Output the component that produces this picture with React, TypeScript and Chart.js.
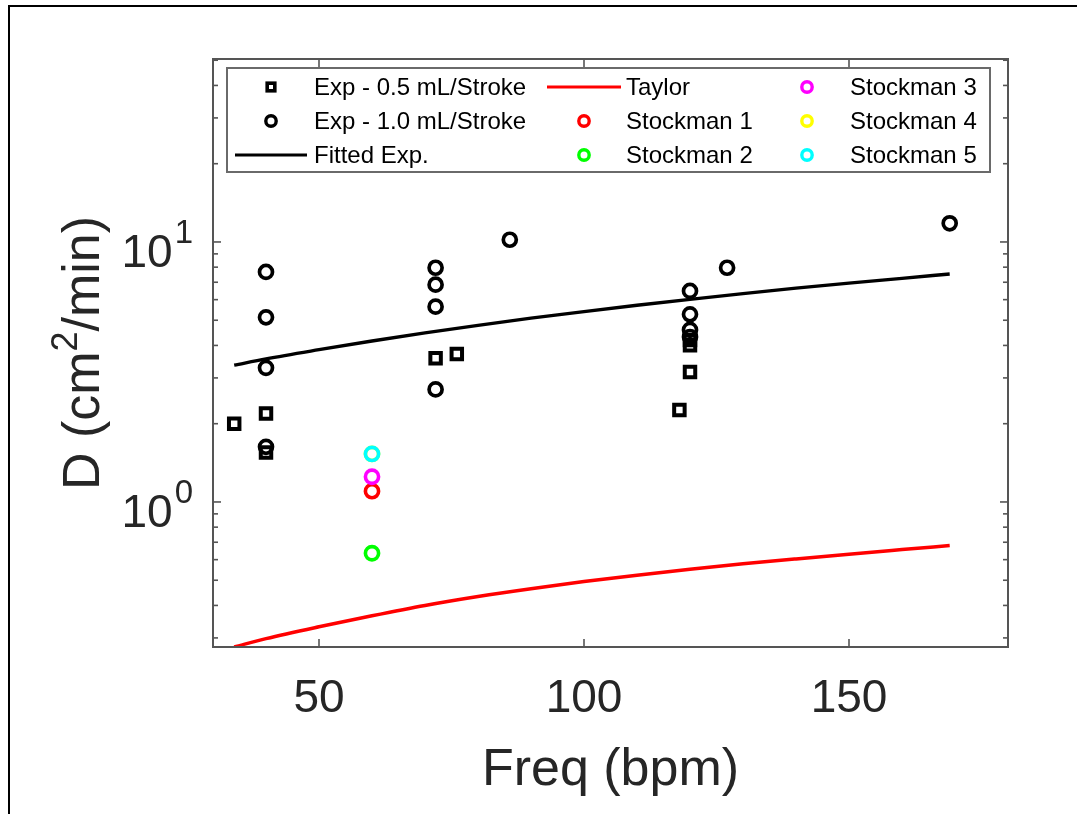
import React, { useEffect, useRef } from "react";
import { Chart, registerables } from "chart.js";

Chart.register(...registerables);

const FONT = '"Liberation Sans", Arial, Helvetica, sans-serif';
const TEXT_COLOR = "#262626";
const AXIS_COLOR = "#555555";

// Axis limits and tick values
const xLimits = [30, 180];
const yLimits = [0.2768, 50.55];
const xTicks = [50, 100, 150];
const yMajorTicks = [1, 10];
const yMajorExponents = ["0", "1"];
const yMinorTicks = [0.3, 0.4, 0.5, 0.6, 0.7, 0.8, 0.9, 2, 3, 4, 5, 6, 7, 8, 9, 20, 30, 40, 50];

// Experimental data, 0.5 mL per stroke
const halfMlFreq = [34, 40, 40, 72, 76, 118, 120, 120, 120];
const halfMlD = [2.0, 2.19, 1.55, 3.57, 3.71, 2.26, 3.16, 4.2, 4.01];

// Experimental data, 1.0 mL per stroke
const oneMlFreq = [40, 40, 40, 40, 72, 72, 72, 72, 86, 120, 120, 120, 120, 127, 169];
const oneMlD = [7.67, 5.13, 3.28, 1.63, 7.96, 6.85, 5.64, 2.71, 10.2, 6.48, 5.27, 4.59, 4.31, 7.96, 11.8];

// Fitted curve through the experiments
const fitFreq = [34, 40, 50, 60, 70, 80, 90, 100, 110, 120, 130, 140, 150, 160, 169];
const fitD = [3.36, 3.55, 3.85, 4.16, 4.47, 4.78, 5.09, 5.4, 5.71, 6.02, 6.33, 6.64, 6.95, 7.25, 7.53];

// Taylor dispersion estimate
const taylorFreq = [34, 40, 50, 60, 70, 80, 90, 100, 110, 120, 130, 140, 150, 160, 169];
const taylorD = [0.277, 0.298, 0.331, 0.365, 0.4, 0.433, 0.464, 0.494, 0.523, 0.551, 0.578, 0.604, 0.63, 0.656, 0.68];

// Stockman model results
const stockmanLabels = ["Stockman 1", "Stockman 2", "Stockman 3", "Stockman 4", "Stockman 5"];
const stockmanFreq = [60, 60, 60, 60, 60];
const stockmanD = [1.1, 0.635, 1.25, 1.53, 1.53];
const stockmanColors = ["#ff0000", "#00ff00", "#ff00ff", "#ffff00", "#00ffff"];

const toPoints = (xs: number[], ys: number[]) => xs.map((x, i) => ({ x, y: ys[i] }));

type LegendEntry = { label: string; kind: "rect" | "circle" | "line"; color: string };
const legendColumns: LegendEntry[][] = [
  [
    { label: "Exp - 0.5 mL/Stroke", kind: "rect", color: "#000000" },
    { label: "Exp - 1.0 mL/Stroke", kind: "circle", color: "#000000" },
    { label: "Fitted Exp.", kind: "line", color: "#000000" },
  ],
  [
    { label: "Taylor", kind: "line", color: "#ff0000" },
    { label: stockmanLabels[0], kind: "circle", color: stockmanColors[0] },
    { label: stockmanLabels[1], kind: "circle", color: stockmanColors[1] },
  ],
  [
    { label: stockmanLabels[2], kind: "circle", color: stockmanColors[2] },
    { label: stockmanLabels[3], kind: "circle", color: stockmanColors[3] },
    { label: stockmanLabels[4], kind: "circle", color: stockmanColors[4] },
  ],
];

function line(ctx: CanvasRenderingContext2D, x1: number, y1: number, x2: number, y2: number) {
  ctx.beginPath();
  ctx.moveTo(x1, y1);
  ctx.lineTo(x2, y2);
  ctx.stroke();
}

const axesPlugin = {
  id: "boxAxes",
  afterDatasetsDraw(chart: any) {
    const { ctx, chartArea: a, scales } = chart;
    const x = scales.x;
    const y = scales.y;
    ctx.save();
    ctx.strokeStyle = AXIS_COLOR;
    ctx.lineWidth = 1.6;
    for (const v of xTicks) {
      const px = x.getPixelForValue(v);
      line(ctx, px, a.bottom, px, a.bottom - 8);
      line(ctx, px, a.top, px, a.top + 8);
    }
    for (const v of yMajorTicks) {
      const py = y.getPixelForValue(v);
      line(ctx, a.left, py, a.left + 8, py);
      line(ctx, a.right, py, a.right - 8, py);
    }
    for (const v of yMinorTicks) {
      const py = y.getPixelForValue(v);
      line(ctx, a.left, py, a.left + 5, py);
      line(ctx, a.right, py, a.right - 5, py);
    }
    ctx.lineWidth = 2;
    ctx.strokeRect(a.left, a.top, a.right - a.left, a.bottom - a.top);

    // tick labels
    ctx.fillStyle = TEXT_COLOR;
    ctx.font = `46px ${FONT}`;
    ctx.textAlign = "center";
    ctx.textBaseline = "alphabetic";
    for (const v of xTicks) {
      ctx.fillText(String(v), x.getPixelForValue(v), a.bottom + 65);
    }
    yMajorTicks.forEach((v, i) => {
      const py = y.getPixelForValue(v);
      ctx.textAlign = "right";
      ctx.font = `33px ${FONT}`;
      const expX = a.left - 20;
      ctx.fillText(yMajorExponents[i], expX, py + 1);
      const expW = ctx.measureText(yMajorExponents[i]).width;
      ctx.font = `46px ${FONT}`;
      ctx.fillText("10", expX - expW - 2, py + 25);
    });

    // axis titles
    ctx.font = `52px ${FONT}`;
    ctx.textAlign = "center";
    ctx.fillText("Freq (bpm)", (a.left + a.right) / 2, a.bottom + 138);

    ctx.translate(99, (a.top + a.bottom) / 2);
    ctx.rotate(-Math.PI / 2);
    ctx.textAlign = "left";
    const parts = [
      { t: "D (cm", size: 52, dy: 0 },
      { t: "2", size: 36, dy: -22 },
      { t: "/min)", size: 52, dy: 0 },
    ];
    let total = 0;
    for (const p of parts) {
      ctx.font = `${p.size}px ${FONT}`;
      total += ctx.measureText(p.t).width;
    }
    let cx = -total / 2;
    for (const p of parts) {
      ctx.font = `${p.size}px ${FONT}`;
      ctx.fillText(p.t, cx, p.dy);
      cx += ctx.measureText(p.t).width;
    }
    ctx.restore();
  },
  afterDraw(chart: any) {
    const { ctx } = chart;
    const box = { left: 227, top: 68, right: 990, bottom: 172 };
    const rowY = [87, 121, 155];
    const colMarkerX = [271, 584, 807];
    const colLine = [[235, 307], [547, 621], [0, 0]];
    const colTextX = [314, 626, 850];
    ctx.save();
    ctx.fillStyle = "#ffffff";
    ctx.fillRect(box.left, box.top, box.right - box.left, box.bottom - box.top);
    ctx.strokeStyle = "#6a6a6a";
    ctx.lineWidth = 2;
    ctx.strokeRect(box.left, box.top, box.right - box.left, box.bottom - box.top);
    legendColumns.forEach((col, ci) => {
      col.forEach((item, ri) => {
        const yy = rowY[ri];
        ctx.strokeStyle = item.color;
        if (item.kind === "line") {
          ctx.lineWidth = 3.2;
          line(ctx, colLine[ci][0], yy, colLine[ci][1], yy);
        } else if (item.kind === "circle") {
          ctx.lineWidth = 3.4;
          ctx.beginPath();
          ctx.arc(colMarkerX[ci], yy, 5.2, 0, Math.PI * 2);
          ctx.stroke();
        } else {
          ctx.lineWidth = 3.6;
          ctx.strokeRect(colMarkerX[ci] - 3.8, yy - 3.8, 7.6, 7.6);
        }
        ctx.fillStyle = "#000000";
        ctx.font = `24px ${FONT}`;
        ctx.textAlign = "left";
        ctx.textBaseline = "middle";
        ctx.fillText(item.label, colTextX[ci], yy + 1);
      });
    });
    ctx.restore();
  },
};

export default function App() {
  const canvasRef = useRef<HTMLCanvasElement | null>(null);

  useEffect(() => {
    if (!canvasRef.current) return;
    const marker = (color: string, style: string, radius: number, width: number) => ({
      pointStyle: style,
      pointRadius: radius,
      pointBorderColor: color,
      pointBackgroundColor: "rgba(0,0,0,0)",
      pointBorderWidth: width,
      showLine: false,
    });
    const datasets: any[] = [
      { label: "Exp - 0.5 mL/Stroke", data: toPoints(halfMlFreq, halfMlD), ...marker("#000000", "rect", 7.4, 4) },
      { label: "Exp - 1.0 mL/Stroke", data: toPoints(oneMlFreq, oneMlD), ...marker("#000000", "circle", 6.5, 3.7) },
      {
        label: "Fitted Exp.",
        data: toPoints(fitFreq, fitD),
        showLine: true,
        borderColor: "#000000",
        borderWidth: 3.3,
        pointRadius: 0,
        cubicInterpolationMode: "monotone",
      },
      {
        label: "Taylor",
        data: toPoints(taylorFreq, taylorD),
        showLine: true,
        borderColor: "#ff0000",
        borderWidth: 3.5,
        pointRadius: 0,
        cubicInterpolationMode: "monotone",
      },
      ...stockmanLabels.map((label, i) => ({
        label,
        data: [{ x: stockmanFreq[i], y: stockmanD[i] }],
        ...marker(stockmanColors[i], "circle", 6.6, 3.6),
      })),
    ];
    // later series are painted over earlier ones
    datasets.forEach((d, i) => (d.order = datasets.length - i));

    const chart = new Chart(canvasRef.current, {
      type: "scatter",
      data: { datasets },
      options: {
        responsive: false,
        animation: false,
        devicePixelRatio: 1,
        events: [],
        layout: { padding: { left: 213, top: 59, right: 1077 - 1008, bottom: 814 - 647 } },
        scales: {
          x: { type: "linear", min: xLimits[0], max: xLimits[1], display: false },
          y: { type: "logarithmic", min: yLimits[0], max: yLimits[1], display: false },
        },
        plugins: { legend: { display: false }, tooltip: { enabled: false } },
      },
      plugins: [axesPlugin],
    } as any);
    return () => chart.destroy();
  }, []);

  return (
    <>
      <div
        style={{
          position: "fixed",
          left: 8,
          top: 5,
          width: 1077,
          height: 814,
          borderTop: "2px solid #000",
          borderLeft: "2px solid #000",
          boxSizing: "border-box",
        }}
      />
      <canvas
        ref={canvasRef}
        width={1077}
        height={814}
        style={{ position: "fixed", left: 0, top: 0, width: 1077, height: 814 }}
      />
    </>
  );
}
